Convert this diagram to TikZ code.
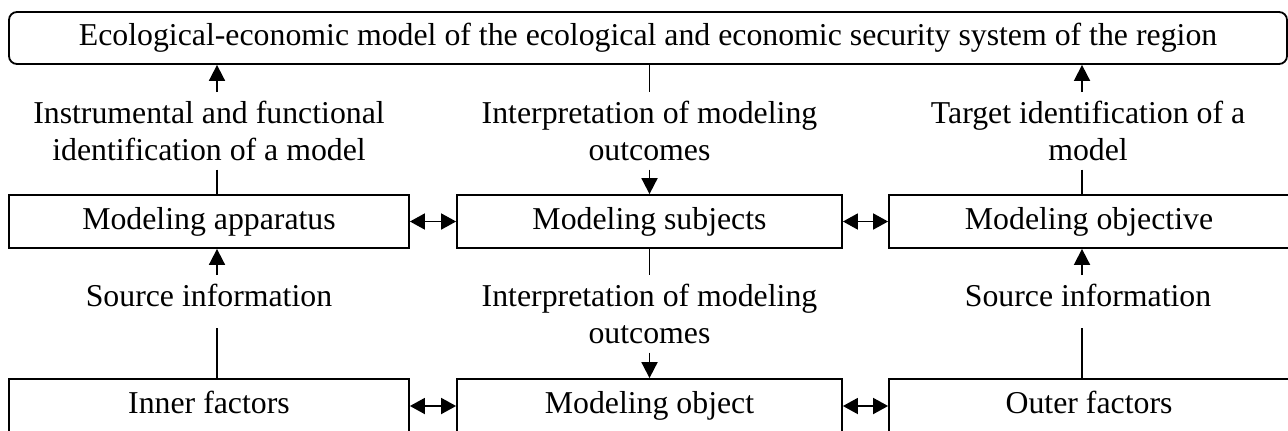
\documentclass[tikz,border=0pt]{standalone}
\usepackage{fontspec}
\setmainfont{Liberation Serif}
\usetikzlibrary{arrows.meta}

\tikzset{
  box/.style={draw, line width=0.9pt, minimum height=26.5pt, inner sep=0pt,
    text height=12.1pt, text depth=4.6pt},
  lbl/.style={align=center, inner xsep=0pt, inner ysep=4pt, anchor=north},
  src/.style={text depth=6.5pt},
  tip/.style={-{Triangle[length=8pt,width=8pt]}},
  dtip/.style={{Triangle[length=7.5pt,width=8pt]}-{Triangle[length=7.5pt,width=8pt]}},
}

\begin{document}
\begin{tikzpicture}[x=0.5pt,y=-0.5pt,line width=0.9pt,font=\fontsize{15.9}{18.5}\selectfont]
\useasboundingbox (0,0) rectangle (1288,430);

% boxes
\node[box, rounded corners=4pt, minimum width=639pt, minimum height=26pt] (eco) at (648,38)
  {Ecological-economic model of the ecological and economic security system of the region};
\node[box, minimum width=200pt]   (app)   at (209,221.5)  {Modeling apparatus};
\node[box, minimum width=192.5pt] (subj)  at (649.5,221.5) {Modeling subjects};
\node[box, minimum width=200pt]   (goal)  at (1089,221.5) {Modeling objective};
\node[box, minimum width=200pt, minimum height=27pt]   (inner) at (209,406)    {Inner factors};
\node[box, minimum width=192.5pt, minimum height=27pt] (obj)   at (649.5,406)  {Modeling object};
\node[box, minimum width=200pt, minimum height=27pt]   (outer) at (1089,406)   {Outer factors};

% labels
\node[lbl] (instr)   at (209,92)    {Instrumental and functional\\identification of a model};
\node[lbl] (interp)  at (649.5,92)  {Interpretation of modeling\\outcomes};
\node[lbl] (target)  at (1088,92)   {Target identification of a\\model};
\node[lbl,src] (srcL) at (209,275)  {Source information};
\node[lbl] (interpB) at (649.5,275) {Interpretation of modeling\\outcomes};
\node[lbl,src] (srcR) at (1088,275) {Source information};

\coordinate (colL) at (217,0);
\coordinate (colR) at (1082,0);

% upper connectors
\draw[tip] (instr.north -| colL) -- (eco.south -| colL);
\draw      (instr.south -| colL) -- (app.north -| colL);
\draw      (eco.south -| interp) -- (interp.north);
\draw[tip] (interp.south) -- (subj.north);
\draw[tip] (target.north -| colR) -- (eco.south -| colR);
\draw      (target.south -| colR) -- (goal.north -| colR);

% lower connectors
\draw[tip] (srcL.north -| colL) -- (app.south -| colL);
\draw      (srcL.south -| colL) -- (inner.north -| colL);
\draw      (subj.south) -- (interpB.north);
\draw[tip] (interpB.south) -- (obj.north);
\draw[tip] (srcR.north -| colR) -- (goal.south -| colR);
\draw      (srcR.south -| colR) -- (outer.north -| colR);

% two-way links
\draw[dtip] (app) -- (subj);
\draw[dtip] (subj) -- (goal);
\draw[dtip] (inner) -- (obj);
\draw[dtip] (obj) -- (outer);
\end{tikzpicture}
\end{document}
